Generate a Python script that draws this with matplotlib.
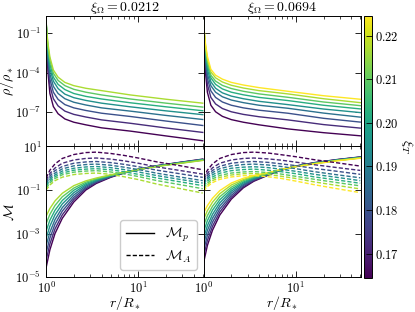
import matplotlib.pyplot as plt
import numpy as np
from matplotlib import cm, colors
from matplotlib.ticker import FixedLocator, FuncFormatter, LogLocator, NullFormatter

plt.rcParams['mathtext.fontset'] = 'cm'
plt.rcParams['font.family'] = 'serif'
plt.rcParams['font.serif'] = ['DejaVu Serif']

# xi_T of each curve (left panel only has the first 8)
xi_T = [0.1645, 0.172, 0.1795, 0.187, 0.1945, 0.202, 0.2095, 0.217, 0.2245]
xi_O = [0.0212, 0.0694]

# density, log10(rho/rho_*), one row per curve (purple -> yellow)
r_rho = [1.0, 1.02, 1.05, 1.1, 1.2, 1.35, 1.6, 2.0, 2.7, 4.0, 8.2, 20, 50]
rho_left = [
    [0, -2.0, -4.0, -5.6, -6.6, -7.15, -7.55, -7.8, -8.0, -8.23, -8.48, -8.85, -9.22],
    [0, -1.75, -3.5, -5.0, -6.0, -6.55, -6.95, -7.2, -7.4, -7.62, -7.88, -8.24, -8.58],
    [0, -1.55, -3.1, -4.5, -5.5, -6.05, -6.45, -6.7, -6.9, -7.11, -7.36, -7.71, -8.05],
    [0, -1.4, -2.8, -4.1, -5.05, -5.6, -6.0, -6.27, -6.48, -6.70, -6.95, -7.28, -7.59],
    [0, -1.25, -2.5, -3.7, -4.65, -5.22, -5.65, -5.92, -6.13, -6.34, -6.62, -6.93, -7.22],
    [0, -1.12, -2.25, -3.35, -4.35, -4.9, -5.3, -5.6, -5.82, -6.02, -6.31, -6.62, -6.92],
    [0, -1.0, -2.0, -3.05, -4.05, -4.6, -5.0, -5.28, -5.5, -5.71, -6.02, -6.34, -6.64],
    [0, -0.9, -1.8, -2.8, -3.8, -4.35, -4.75, -5.0, -5.2, -5.38, -5.71, -6.04, -6.34],
]
rho_right = [
    [0, -2.0, -4.0, -5.5, -6.5, -7.0, -7.35, -7.6, -7.8, -8.0, -8.31, -8.6, -8.84],
    [0, -1.75, -3.5, -4.9, -5.9, -6.4, -6.75, -7.0, -7.2, -7.38, -7.62, -7.98, -8.25],
    [0, -1.55, -3.1, -4.45, -5.4, -5.9, -6.25, -6.5, -6.7, -6.88, -7.11, -7.5, -7.79],
    [0, -1.4, -2.8, -4.1, -5.0, -5.5, -5.85, -6.1, -6.3, -6.5, -6.73, -7.1, -7.41],
    [0, -1.27, -2.55, -3.75, -4.7, -5.2, -5.55, -5.8, -6.0, -6.2, -6.45, -6.79, -7.06],
    [0, -1.15, -2.3, -3.45, -4.4, -4.9, -5.25, -5.5, -5.7, -5.9, -6.14, -6.5, -6.78],
    [0, -1.05, -2.1, -3.2, -4.2, -4.65, -4.98, -5.22, -5.43, -5.63, -5.89, -6.25, -6.53],
    [0, -0.95, -1.95, -2.95, -3.95, -4.4, -4.72, -4.97, -5.18, -5.38, -5.63, -6.0, -6.30],
    [0, -0.85, -1.8, -2.75, -3.75, -4.2, -4.5, -4.75, -4.95, -5.15, -5.43, -5.77, -6.04],
]

# Mach numbers, log10
r_m = [1.0, 1.1, 1.25, 1.5, 2.0, 2.7, 3.5, 5.0, 7.0, 10, 16, 28, 50]
# M_p: one row per radius, one column per curve
mp_left = [
    [-4.58, -4.24, -3.90, -3.56, -3.23, -2.89, -2.55, -2.21],
    [-3.75, -3.48, -3.21, -2.94, -2.66, -2.39, -2.12, -1.85],
    [-3.00, -2.79, -2.57, -2.36, -2.14, -1.93, -1.71, -1.50],
    [-2.30, -2.14, -1.97, -1.81, -1.64, -1.48, -1.31, -1.15],
    [-1.55, -1.44, -1.34, -1.23, -1.12, -1.01, -0.91, -0.80],
    [-1.00, -0.94, -0.88, -0.82, -0.76, -0.70, -0.64, -0.58],
    [-0.70, -0.66, -0.63, -0.59, -0.56, -0.52, -0.49, -0.45],
    [-0.42, -0.40, -0.39, -0.37, -0.35, -0.33, -0.32, -0.30],
    [-0.22, -0.21, -0.21, -0.20, -0.20, -0.19, -0.19, -0.18],
    [-0.05, -0.05, -0.05, -0.05, -0.06, -0.06, -0.06, -0.06],
    [0.12, 0.11, 0.11, 0.10, 0.10, 0.09, 0.09, 0.08],
    [0.27, 0.26, 0.26, 0.25, 0.24, 0.24, 0.23, 0.22],
    [0.42, 0.41, 0.40, 0.39, 0.39, 0.38, 0.37, 0.36],
]
mp_right = [
    [-4.35, -4.06, -3.78, -3.49, -3.21, -2.92, -2.63, -2.35, -2.06],
    [-3.55, -3.32, -3.09, -2.86, -2.64, -2.41, -2.18, -1.95, -1.72],
    [-2.85, -2.67, -2.48, -2.30, -2.12, -1.93, -1.75, -1.56, -1.38],
    [-2.15, -2.01, -1.87, -1.73, -1.59, -1.45, -1.31, -1.17, -1.03],
    [-1.42, -1.33, -1.24, -1.14, -1.05, -0.96, -0.87, -0.77, -0.68],
    [-0.90, -0.85, -0.79, -0.74, -0.68, -0.63, -0.57, -0.52, -0.46],
    [-0.60, -0.57, -0.53, -0.50, -0.47, -0.43, -0.40, -0.36, -0.33],
    [-0.32, -0.31, -0.29, -0.28, -0.26, -0.25, -0.23, -0.22, -0.20],
    [-0.08, -0.08, -0.07, -0.07, -0.07, -0.06, -0.06, -0.05, -0.05],
    [0.10, 0.10, 0.09, 0.09, 0.09, 0.08, 0.08, 0.08, 0.07],
    [0.26, 0.25, 0.25, 0.24, 0.23, 0.22, 0.22, 0.21, 0.20],
    [0.40, 0.39, 0.39, 0.38, 0.37, 0.36, 0.36, 0.35, 0.34],
    [0.52, 0.51, 0.51, 0.50, 0.49, 0.48, 0.48, 0.47, 0.46],
]
# M_A: one row per curve
ma_left = [
    [-0.45, -0.09, 0.20, 0.45, 0.63, 0.72, 0.74, 0.68, 0.59, 0.47, 0.29, 0.12, -0.07],
    [-0.55, -0.24, 0.01, 0.23, 0.38, 0.45, 0.47, 0.42, 0.34, 0.23, 0.06, -0.10, -0.27],
    [-0.63, -0.35, -0.11, 0.08, 0.23, 0.29, 0.31, 0.26, 0.18, 0.07, -0.09, -0.25, -0.42],
    [-0.71, -0.44, -0.22, -0.03, 0.11, 0.17, 0.19, 0.14, 0.05, -0.06, -0.23, -0.40, -0.57],
    [-0.78, -0.52, -0.31, -0.13, 0.00, 0.06, 0.08, 0.03, -0.06, -0.17, -0.34, -0.51, -0.68],
    [-0.85, -0.60, -0.39, -0.22, -0.09, -0.04, -0.02, -0.07, -0.16, -0.28, -0.45, -0.62, -0.80],
    [-0.92, -0.68, -0.47, -0.30, -0.18, -0.13, -0.11, -0.17, -0.26, -0.38, -0.57, -0.75, -0.94],
    [-1.00, -0.77, -0.57, -0.41, -0.29, -0.24, -0.22, -0.28, -0.39, -0.52, -0.73, -0.93, -1.14],
]
ma_right = [
    [-0.45, -0.09, 0.20, 0.45, 0.63, 0.72, 0.74, 0.70, 0.62, 0.53, 0.39, 0.25, 0.10],
    [-0.53, -0.23, 0.02, 0.23, 0.38, 0.45, 0.47, 0.43, 0.37, 0.28, 0.16, 0.03, -0.10],
    [-0.61, -0.33, -0.10, 0.09, 0.23, 0.29, 0.31, 0.27, 0.20, 0.12, -0.01, -0.14, -0.28],
    [-0.68, -0.42, -0.20, -0.02, 0.11, 0.17, 0.19, 0.15, 0.08, -0.02, -0.16, -0.30, -0.44],
    [-0.75, -0.50, -0.30, -0.13, 0.00, 0.05, 0.07, 0.03, -0.05, -0.14, -0.28, -0.42, -0.57],
    [-0.83, -0.59, -0.40, -0.23, -0.11, -0.06, -0.04, -0.09, -0.16, -0.25, -0.40, -0.54, -0.69],
    [-0.90, -0.68, -0.49, -0.33, -0.22, -0.17, -0.15, -0.20, -0.27, -0.37, -0.51, -0.66, -0.81],
    [-0.98, -0.76, -0.57, -0.42, -0.31, -0.25, -0.24, -0.29, -0.37, -0.47, -0.63, -0.79, -0.95],
    [-1.06, -0.84, -0.66, -0.51, -0.40, -0.34, -0.33, -0.39, -0.47, -0.59, -0.76, -0.94, -1.12],
]

cmap = plt.get_cmap('viridis')
norm = colors.Normalize(vmin=min(xi_T), vmax=max(xi_T))

fig, axes = plt.subplots(2, 2, sharex=True, sharey='row', figsize=(4.15, 3.12), dpi=100)
fig.subplots_adjust(left=0.111, right=0.870, top=0.949, bottom=0.112, wspace=0, hspace=0)

rho_sets = [rho_left, rho_right]
mp_sets = [np.array(mp_left).T, np.array(mp_right).T]
ma_sets = [ma_left, ma_right]

for j in range(2):
    ax = axes[0, j]
    for i, row in enumerate(rho_sets[j]):
        ax.plot(r_rho, 10 ** np.array(row), color=cmap(norm(xi_T[i])), lw=1.0)
    ax.set_title(r'$\xi_\Omega = %s$' % xi_O[j], fontsize=10, pad=3)

    ax = axes[1, j]
    for i, row in enumerate(mp_sets[j]):
        ax.plot(r_m, 10 ** np.array(row), color=cmap(norm(xi_T[i])), lw=1.0)
    for i, row in enumerate(ma_sets[j]):
        ax.plot(r_m, 10 ** np.array(row), color=cmap(norm(xi_T[i])), lw=1.0, ls='--', dashes=(3, 1.5))

logfmt = FuncFormatter(lambda v, p: r'$10^{%d}$' % round(np.log10(v)))
for ax in axes.flat:
    ax.set_xscale('log')
    ax.set_yscale('log')
    ax.set_xlim(1, 51)
    ax.tick_params(which='both', direction='in', top=True, right=True, labelsize=9)
    ax.tick_params(which='major', length=4, width=0.6)
    ax.tick_params(which='minor', length=2, width=0.5)
    ax.tick_params(axis='x', pad=2.5)
    ax.xaxis.set_major_locator(FixedLocator([1, 10]))
    ax.xaxis.set_minor_locator(LogLocator(base=10, subs=np.arange(2, 10)))
    ax.xaxis.set_minor_formatter(NullFormatter())
    ax.xaxis.set_major_formatter(logfmt)
    ax.yaxis.set_minor_locator(FixedLocator([]))
    for s in ax.spines.values():
        s.set_linewidth(0.7)

axes[0, 0].set_ylim(2.2e-10, 2.2)
axes[0, 0].yaxis.set_major_locator(FixedLocator([1e-1, 1e-4, 1e-7]))
axes[0, 0].yaxis.set_major_formatter(logfmt)
axes[1, 0].set_ylim(1e-5, 1e1)
axes[1, 0].yaxis.set_major_locator(FixedLocator([1e-5, 1e-3, 1e-1, 1e1]))
axes[1, 0].yaxis.set_major_formatter(logfmt)

axes[0, 0].set_ylabel(r'$\rho/\rho_*$', fontsize=10, labelpad=-1)
axes[1, 0].set_ylabel(r'$\mathcal{M}$', fontsize=10, labelpad=-1)
for ax in axes[1]:
    ax.set_xlabel(r'$r/R_*$', fontsize=10, labelpad=-1.5)

h1, = axes[1, 0].plot([], [], color='k', lw=1.0, label=r'$\mathcal{M}_p$')
h2, = axes[1, 0].plot([], [], color='k', lw=1.0, ls='--', dashes=(3, 1.5), label=r'$\mathcal{M}_A$')
axes[1, 0].legend(handles=[h1, h2], loc='lower right', fontsize=10, handlelength=2.0,
                  borderpad=0.4, labelspacing=0.3, framealpha=1, edgecolor='0.8')

cax = fig.add_axes([0.877, 0.110, 0.0193, 0.839])
sm = cm.ScalarMappable(norm=norm, cmap=cmap)
cb = fig.colorbar(sm, cax=cax)
cb.set_ticks([0.17, 0.18, 0.19, 0.20, 0.21, 0.22])
cb.ax.yaxis.set_major_formatter(FuncFormatter(lambda v, p: r'$%.2f$' % v))
cb.ax.tick_params(direction='in', length=4, width=0.6, labelsize=9, pad=2)
cb.outline.set_linewidth(0.7)
cb.set_label(r'$\xi_T$', fontsize=10, rotation=270, labelpad=12)

fig.savefig('out.png', dpi=100)
